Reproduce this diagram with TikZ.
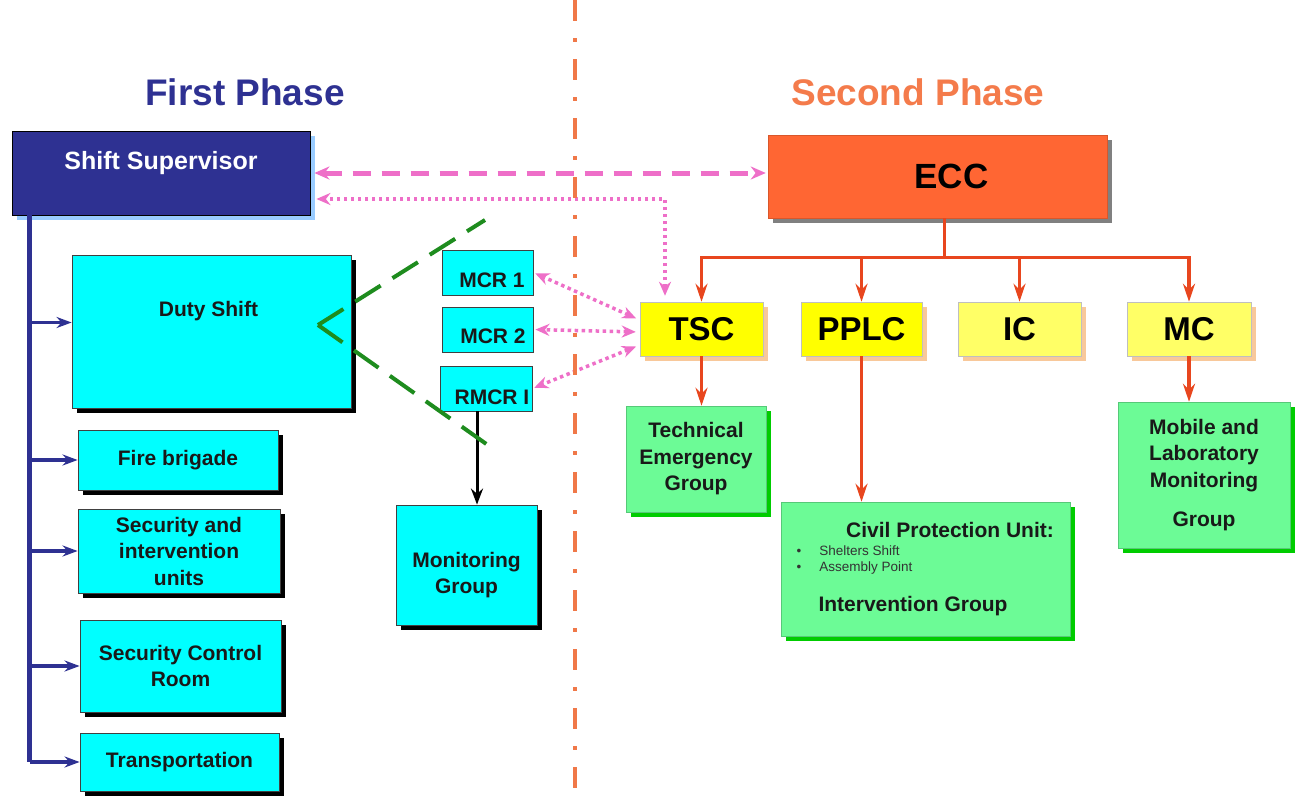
\documentclass[tikz,border=0pt]{standalone}
\usepackage{fontspec}
\setmainfont{Liberation Sans}
\usetikzlibrary{arrows.meta,shadows,positioning,calc}

\definecolor{supnavy}{HTML}{2E3192}
\definecolor{phaseorange}{HTML}{F47B4B}
\definecolor{eccred}{HTML}{FF6633}
\definecolor{linkpink}{HTML}{EE6FC8}
\definecolor{treeorange}{HTML}{E8461E}
\definecolor{boxcyan}{HTML}{00FFFF}
\definecolor{boxgreen}{HTML}{6CFB96}
\definecolor{shadegreen}{HTML}{00CC00}
\definecolor{brightyellow}{HTML}{FFFF00}
\definecolor{paleyellow}{HTML}{FFFF66}
\definecolor{peach}{HTML}{F8C89A}
\definecolor{skyshade}{HTML}{99CCFF}
\definecolor{dashgreen}{HTML}{1E8C1E}
\definecolor{sepline}{HTML}{F07848}

\tikzset{
  boxshade/.style={general shadow={fill=#1, shadow xshift=5pt, shadow yshift=-5pt}},
  plainfont/.style={font=\fontsize{21}{26.5}\selectfont\bfseries, text=black!90},
  listfont/.style={font=\fontsize{13.5}{16}\selectfont, text=black!80},
  suplabel/.style={font=\fontsize{25}{30}\selectfont\bfseries, text=white},
  ecclabel/.style={font=\fontsize{35}{42}\selectfont\bfseries, text=black},
  phasetitle/.style={font=\fontsize{37}{44}\selectfont\bfseries, anchor=base},
  supbox/.style={draw=black, line width=0.8pt, fill=supnavy, boxshade=skyshade},
  eccbox/.style={draw=eccred!85!black, line width=0.5pt, fill=eccred, boxshade=black!50},
  cyanbox/.style={draw=black!75, line width=0.8pt, fill=boxcyan, boxshade=black,
                  plainfont, align=center, inner sep=0pt},
  mcrbox/.style={draw=black!75, line width=0.8pt, fill=boxcyan, inner sep=0pt,
                 minimum width=91pt, minimum height=45pt},
  unitbox/.style={draw=black!25, line width=0.5pt, fill=#1, boxshade=peach,
                  font=\fontsize{33}{40}\selectfont\bfseries, inner sep=0pt,
                  minimum width=123pt, minimum height=54pt},
  greenbox/.style={draw=boxgreen!80!black, line width=0.5pt, fill=boxgreen,
                   boxshade=shadegreen, plainfont, align=center, inner sep=0pt},
  bluelink/.style={draw=supnavy, line width=3.5pt, -{Stealth[length=15pt,width=11pt]}},
  orangelink/.style={draw=treeorange, line width=3.5pt, -{Stealth[length=18pt,width=12pt]}},
  pinkdash/.style={draw=linkpink, line width=5pt, dash pattern=on 18pt off 11pt,
                   {Stealth[length=15pt,width=13pt]}-{Stealth[length=15pt,width=13pt]}},
  pinkdot/.style={draw=linkpink, line width=3.5pt, dash pattern=on 3.5pt off 3.5pt,
                  {Stealth[length=14pt,width=12pt]}-{Stealth[length=14pt,width=12pt]}},
  greendash/.style={draw=dashgreen, line width=4pt, dash pattern=on 30pt off 14pt},
  sepdash/.style={draw=sepline, line width=4pt, dash pattern=on 21pt off 17pt on 4pt off 17pt},
}

\begin{document}
\begin{tikzpicture}[x=1pt,y=-1pt]
  \useasboundingbox (0,0) rectangle (1296,801);
  \fill[white] (0,0) rectangle (1296,801);

  % titles
  \node[phasetitle, text=supnavy] (firsttitle) at (245,105) {First Phase};
  \node[phasetitle, text=phaseorange] (secondtitle) at (918,105) {Second Phase};

  % first phase
  \node[supbox, minimum width=298pt, minimum height=84pt,
        label={[suplabel, yshift=10pt]center:Shift Supervisor}] (super) at (161,173) {};
  \node[cyanbox, minimum width=279pt, minimum height=153pt,
        label={[plainfont, xshift=-3pt, yshift=20pt]center:Duty Shift}] (duty) at (211.5,331.5) {};
  \node[cyanbox, minimum width=200pt, minimum height=60pt] (fire) at (178,460) {Fire brigade};
  \node[cyanbox, minimum width=202pt, minimum height=84pt] (secunits) at (179,551) {Security and\\intervention\\units};
  \node[cyanbox, minimum width=201pt, minimum height=92pt] (secroom) at (180.5,666) {Security Control\\Room};
  \node[cyanbox, minimum width=199pt, minimum height=58pt] (transport) at (179.5,762) {Transportation};

  \coordinate (trunktop) at ([xshift=18pt]super.south west);
  \draw[supnavy, line width=5pt] (trunktop) -- (trunktop |- transport.west);
  \draw[bluelink] (trunktop |- duty.west) ++(0,-9) -- ([yshift=9pt]duty.west);
  \foreach \unit in {fire,secunits,secroom,transport}
    \draw[bluelink] (trunktop |- \unit.west) -- (\unit.west);

  % control rooms
  \node[mcrbox, label={[plainfont, xshift=4.5pt, yshift=-7.5pt]center:MCR 1}] (mcr1) at (487.5,272.5) {};
  \node[mcrbox, label={[plainfont, xshift=5.5pt, yshift=-6.5pt]center:MCR 2}] (mcr2) at (487.5,329.5) {};
  \node[mcrbox, minimum width=92pt,
        label={[plainfont, xshift=6pt, yshift=-8.5pt]center:RMCR I}] (rmcr) at (486,388.5) {};
  \node[cyanbox, minimum width=141pt, minimum height=120pt,
        label={[plainfont, align=center, yshift=-10pt]center:Monitoring\\Group}] (mongroup) at (466.5,565) {};
  \draw[black, line width=3pt, -{Stealth[length=16pt,width=12pt]}]
    ([xshift=-9pt]rmcr.south) -- ([xshift=-9pt]rmcr.south |- mongroup.north);

  % bracket
  \coordinate (vertex) at (318,325);
  \coordinate (uptip) at (485,220);
  \coordinate (lowtip) at (492,448);
  \draw[greendash] (vertex) -- (uptip);
  \draw[greendash] (vertex) -- (lowtip);

  % second phase
  \node[eccbox, minimum width=339pt, minimum height=83pt,
        label={[ecclabel, xshift=14pt]center:ECC}] (ecc) at (937.5,176.5) {};
  \node[unitbox=brightyellow] (tsc) at (701.5,329) {TSC};
  \node[unitbox=brightyellow, minimum width=121pt] (pplc) at (861.5,329) {PPLC};
  \node[unitbox=paleyellow] (ic) at (1019.5,329) {IC};
  \node[unitbox=paleyellow, minimum width=124pt] (mc) at (1189,329) {MC};

  \node[greenbox, minimum width=140pt, minimum height=106pt] (techgroup) at (696,459) {Technical\\Emergency\\Group};
  \node[greenbox, minimum width=289pt, minimum height=134pt] (civil) at (925.5,569) {};
  \node[plainfont] (civiltitle) at (950,530) {Civil Protection Unit:};
  \node[listfont, anchor=west] (shelters) at (793,551) {\textbullet\hspace{18pt}Shelters Shift};
  \node[listfont, anchor=west] (assembly) at (793,568) {\textbullet\hspace{18pt}Assembly Point};
  \node[plainfont] (intervention) at (913,606) {Intervention Group};
  \node[greenbox, minimum width=172pt, minimum height=146pt] (mobile) at (1204,475) {Mobile and\\Laboratory\\Monitoring\\[13pt]Group};

  \coordinate (fork) at ([xshift=7pt, yshift=-39pt]ecc.south);
  \draw[treeorange, line width=3.5pt] ([xshift=7pt]ecc.south) -- (fork);
  \foreach \unit in {tsc,pplc,ic,mc}
    \draw[orangelink] (fork) -| (\unit.north);
  \draw[orangelink] (tsc.south) -- (tsc.south |- techgroup.north);
  \draw[orangelink] (pplc.south) -- (pplc.south |- civil.north);
  \draw[orangelink] (mc.south) -- (mc.south |- mobile.north);

  % links between phases
  \draw[pinkdash, shorten <=4pt, shorten >=2pt] (super.east) -- (super.east -| ecc.west);
  \draw[pinkdot, shorten <=6pt, shorten >=6pt] ([xshift=-36.5pt]tsc.north) |- ([yshift=-26pt]super.east);
  \draw[pinkdot, shorten <=4pt, shorten >=2pt] ([yshift=9pt]tsc.west) -- (mcr1.east);
  \draw[pinkdot, shorten <=4pt, shorten >=2pt] ([yshift=-3pt]tsc.west) -- (mcr2.east);
  \draw[pinkdot, shorten <=4pt, shorten >=2pt] ([yshift=-16pt]tsc.west) -- (rmcr.east);

  % phase separator
  \coordinate (septop) at (575,0);
  \coordinate (sepbottom) at (575,801);
  \draw[sepdash] (septop) -- (sepbottom);
\end{tikzpicture}
\end{document}
